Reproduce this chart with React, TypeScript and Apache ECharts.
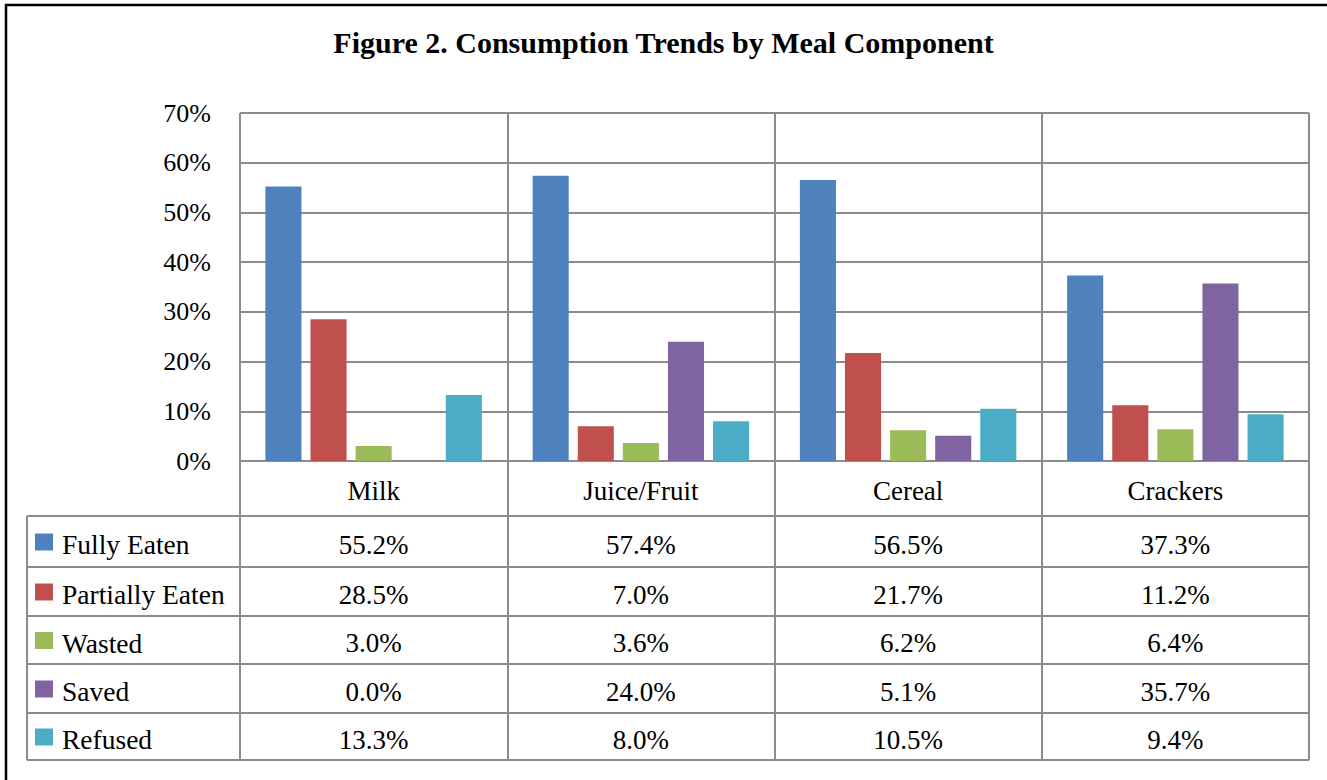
import React, { useEffect, useRef } from "react";
import * as echarts from "echarts";

const categories = ["Milk", "Juice/Fruit", "Cereal", "Crackers"];
const seriesNames = ["Fully Eaten", "Partially Eaten", "Wasted", "Saved", "Refused"];
const fullyEaten = [55.2, 57.4, 56.5, 37.3];
const partiallyEaten = [28.5, 7.0, 21.7, 11.2];
const wasted = [3.0, 3.6, 6.2, 6.4];
const saved = [0.0, 24.0, 5.1, 35.7];
const refused = [13.3, 8.0, 10.5, 9.4];
const yTicks = [0, 10, 20, 30, 40, 50, 60, 70];
const colors = ["#4F81BD", "#C0504D", "#9BBB59", "#8064A2", "#4BACC6"];
const title = "Figure 2. Consumption Trends by Meal Component";

const FONT = "'Liberation Serif', 'Times New Roman', serif";
const GRID_COLOR = "#8c8c8c";

export default function App() {
  const ref = useRef<HTMLDivElement>(null);

  useEffect(() => {
    if (!ref.current) return;
    const chart = echarts.init(ref.current, null, { renderer: "svg" });
    const allSeries = [fullyEaten, partiallyEaten, wasted, saved, refused];

    const gridLeft = 240;
    const gridTop = 113;
    const gridRight = 1309;
    const gridBottom = 461;
    const tableLeft = 27;
    const rowLines = [516, 567, 616, 664, 713, 760];

    chart.setOption({
      animation: false,
      backgroundColor: "#ffffff",
      title: {
        text: title,
        left: "center",
        top: 22,
        textStyle: { fontFamily: FONT, fontWeight: "bold", fontSize: 30, color: "#000" },
      },
      grid: {
        left: gridLeft,
        top: gridTop,
        width: gridRight - gridLeft,
        height: gridBottom - gridTop,
      },
      xAxis: {
        type: "category",
        data: categories,
        axisLine: { show: true, lineStyle: { color: GRID_COLOR, width: 2 } },
        axisTick: { show: true, length: rowLines[rowLines.length - 1] - gridBottom, lineStyle: { color: GRID_COLOR, width: 2 } },
        splitLine: { show: true, lineStyle: { color: GRID_COLOR, width: 2 } },
        axisLabel: { fontFamily: FONT, fontSize: 27, color: "#000", margin: 15, lineHeight: 30 },
      },
      yAxis: {
        type: "value",
        min: 0,
        max: 70,
        interval: 10,
        axisLine: { show: false },
        axisTick: { show: false },
        splitLine: { show: true, lineStyle: { color: GRID_COLOR, width: 2 } },
        axisLabel: {
          fontFamily: FONT,
          fontSize: 26,
          color: "#000",
          margin: 29,
          formatter: (v: number) => (yTicks.includes(v) ? `${v}%` : ""),
        },
      },
      series: allSeries.map((d, i) => ({
        type: "bar",
        name: seriesNames[i],
        data: d,
        barGap: "25%",
        barCategoryGap: "19%",
        itemStyle: { color: colors[i] },
      })),
    });

    const graphics: any[] = [];
    graphics.push({
      type: "rect",
      shape: { x: 6, y: 5, width: 1340, height: 800 },
      style: { fill: "none", stroke: "#000", lineWidth: 2.5 },
      silent: true,
    });
    rowLines.forEach((y) => {
      graphics.push({
        type: "line",
        shape: { x1: tableLeft, y1: y, x2: gridRight, y2: y },
        style: { stroke: GRID_COLOR, lineWidth: 2 },
        silent: true,
      });
    });
    graphics.push({
      type: "line",
      shape: { x1: tableLeft, y1: rowLines[0], x2: tableLeft, y2: rowLines[rowLines.length - 1] },
      style: { stroke: GRID_COLOR, lineWidth: 2 },
      silent: true,
    });

    seriesNames.forEach((name, r) => {
      const cy = (rowLines[r] + rowLines[r + 1]) / 2 + 3;
      graphics.push({
        type: "rect",
        shape: { x: 35, y: cy - 11, width: 18, height: 17 },
        style: { fill: colors[r] },
        silent: true,
      });
      graphics.push({
        type: "text",
        x: 62,
        y: cy,
        style: {
          text: name,
          fontFamily: FONT,
          fontSize: 27.5,
          fill: "#000",
          textAlign: "left",
          textVerticalAlign: "middle",
        },
        silent: true,
      });
      categories.forEach((c, ci) => {
        const px = chart.convertToPixel({ xAxisIndex: 0 }, c) as number;
        graphics.push({
          type: "text",
          x: px,
          y: cy,
          style: {
            text: `${allSeries[r][ci].toFixed(1)}%`,
            fontFamily: FONT,
            fontSize: 27,
            fill: "#000",
            textAlign: "center",
            textVerticalAlign: "middle",
          },
          silent: true,
        });
      });
    });

    chart.setOption({ graphic: graphics });

    return () => chart.dispose();
  }, []);

  return (
    <div
      ref={ref}
      style={{ position: "fixed", left: 0, top: 0, width: 1327, height: 780, background: "#fff" }}
    />
  );
}
